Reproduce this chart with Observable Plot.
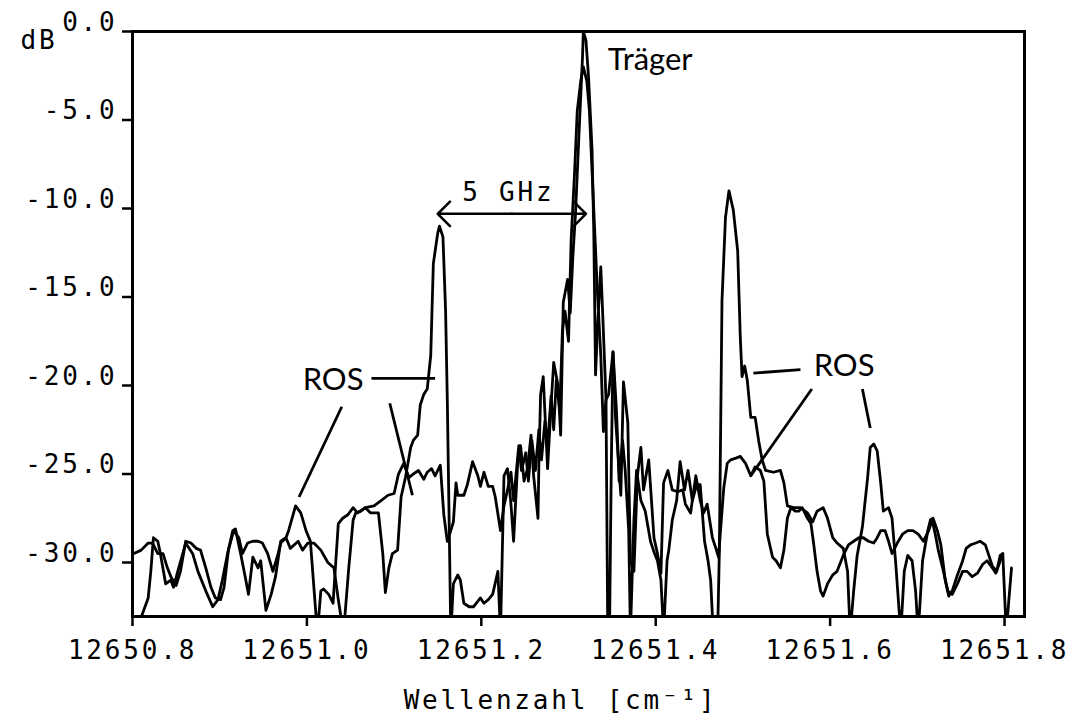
<!DOCTYPE html>
<html>
<head>
<meta charset="utf-8">
<script src="https://cdn.jsdelivr.net/npm/d3@7"></script>
<script src="https://cdn.jsdelivr.net/npm/@observablehq/plot@0.6"></script>
<style>
  html, body { margin: 0; padding: 0; background: #fff; }
  svg { display: block; }
</style>
</head>
<body>
<div id="chart"></div>
<script>
// Wavenumber axis ticks [cm^-1] and level ticks [dB]
const xTicks = [12650.8, 12651.0, 12651.2, 12651.4, 12651.6, 12651.8];
const yTicks = [0, -5, -10, -15, -20, -25, -30];

// Spectrum with sharp first-order sidebands (wavenumber, dB)
const spectrumSharp = [
  [12650.807,-33.5],[12650.818,-32.0],[12650.821,-30.5],[12650.824,-28.6],[12650.829,-28.8],
  [12650.832,-29.5],[12650.838,-31.2],[12650.844,-31.0],[12650.847,-31.4],[12650.853,-30.3],
  [12650.861,-28.9],[12650.869,-29.5],[12650.875,-30.5],[12650.884,-31.6],[12650.892,-32.5],
  [12650.898,-32.1],[12650.903,-31.0],[12650.909,-29.5],[12650.915,-28.2],[12650.918,-28.1],
  [12650.924,-29.5],[12650.930,-31.0],[12650.933,-31.8],[12650.938,-29.7],[12650.944,-30.3],
  [12650.947,-29.9],[12650.953,-32.7],[12650.959,-31.8],[12650.964,-30.8],[12650.970,-28.8],
  [12650.976,-28.6],[12650.979,-28.2],[12650.987,-26.8],[12650.993,-27.2],[12650.999,-28.2],
  [12651.004,-28.8],[12651.012,-34.0],[12651.016,-31.6],[12651.019,-31.5],[12651.025,-31.8],
  [12651.030,-32.3],[12651.036,-27.8],[12651.041,-27.5],[12651.047,-27.3],[12651.053,-26.9],
  [12651.058,-27.2],[12651.067,-26.9],[12651.073,-27.2],[12651.079,-27.2],[12651.082,-27.2],
  [12651.087,-29.5],[12651.090,-31.7],[12651.094,-30.3],[12651.098,-29.5],[12651.104,-29.3],
  [12651.108,-26.3],[12651.113,-25.2],[12651.119,-23.5],[12651.122,-23.1],[12651.127,-22.8],
  [12651.130,-21.1],[12651.134,-20.5],[12651.138,-20.2],[12651.142,-18.3],[12651.145,-13.1],
  [12651.150,-11.4],[12651.152,-11.0],[12651.156,-11.6],[12651.159,-15.7],[12651.161,-20.8],
  [12651.163,-27.3],[12651.165,-34.0],[12651.168,-31.2],[12651.173,-30.7],[12651.176,-31.0],
  [12651.180,-32.3],[12651.186,-32.5],[12651.191,-32.5],[12651.199,-32.0],[12651.203,-32.3],
  [12651.208,-32.1],[12651.213,-31.8],[12651.219,-30.5],[12651.222,-34.0],[12651.226,-25.1],
  [12651.230,-24.7],[12651.234,-26.7],[12651.237,-28.8],[12651.242,-24.1],[12651.245,-23.4],
  [12651.249,-25.4],[12651.253,-24.7],[12651.257,-22.8],[12651.260,-25.1],[12651.265,-27.5],
  [12651.266,-24.5],[12651.268,-20.5],[12651.271,-19.5],[12651.276,-24.7],[12651.280,-21.1],
  [12651.283,-18.7],[12651.288,-20.0],[12651.291,-22.8],[12651.294,-15.3],[12651.299,-14.0],
  [12651.302,-15.9],[12651.305,-12.7],[12651.308,-10.3],[12651.312,-5.8],[12651.316,-1.5],
  [12651.317,0.0],[12651.320,-0.5],[12651.323,-2.6],[12651.327,-6.7],[12651.329,-11.4],
  [12651.331,-19.4],[12651.333,-17.0],[12651.337,-13.3],[12651.339,-15.7],[12651.343,-20.8],
  [12651.345,-34.0],[12651.347,-34.0],[12651.349,-24.8],[12651.351,-18.1],[12651.355,-21.4],
  [12651.358,-25.4],[12651.362,-23.1],[12651.365,-24.8],[12651.369,-28.2],[12651.371,-34.0],
  [12651.375,-27.6],[12651.378,-24.8],[12651.383,-26.5],[12651.388,-27.1],[12651.394,-28.8],
  [12651.398,-29.4],[12651.402,-29.9],[12651.406,-31.0],[12651.409,-34.0],[12651.413,-29.9],
  [12651.415,-29.3],[12651.419,-27.6],[12651.424,-26.5],[12651.428,-24.3],[12651.433,-25.9],
  [12651.437,-24.8],[12651.442,-26.5],[12651.447,-25.6],[12651.451,-25.6],[12651.456,-28.8],
  [12651.460,-29.9],[12651.463,-31.0],[12651.466,-34.0],[12651.471,-34.0],[12651.473,-29.3],
  [12651.476,-15.2],[12651.480,-10.5],[12651.484,-9.0],[12651.489,-10.1],[12651.494,-12.4],
  [12651.497,-17.3],[12651.499,-19.5],[12651.502,-18.9],[12651.505,-19.7],[12651.509,-21.8],
  [12651.514,-21.8],[12651.518,-23.1],[12651.522,-24.2],[12651.526,-24.8],[12651.535,-24.9],
  [12651.543,-24.8],[12651.547,-25.5],[12651.551,-26.8],[12651.558,-26.9],[12651.566,-26.9],
  [12651.574,-27.2],[12651.580,-27.7],[12651.585,-27.1],[12651.592,-26.9],[12651.597,-27.5],
  [12651.603,-28.6],[12651.608,-28.9],[12651.615,-29.2],[12651.620,-30.5],[12651.623,-34.0],
  [12651.627,-31.6],[12651.631,-29.6],[12651.637,-28.0],[12651.643,-25.2],[12651.646,-23.5],
  [12651.650,-23.3],[12651.654,-23.7],[12651.658,-25.5],[12651.661,-27.1],[12651.667,-26.9],
  [12651.671,-27.5],[12651.675,-29.9],[12651.681,-34.0],[12651.685,-30.5],[12651.689,-29.6],
  [12651.694,-29.9],[12651.698,-31.6],[12651.701,-34.0],[12651.706,-29.9],[12651.712,-28.2],
  [12651.715,-27.6],[12651.718,-27.5],[12651.723,-28.2],[12651.727,-29.0],[12651.732,-31.0],
  [12651.736,-31.9],[12651.740,-31.6],[12651.746,-30.7],[12651.752,-29.9],[12651.756,-29.2],
  [12651.761,-29.0],[12651.767,-28.9],[12651.772,-28.8],[12651.778,-29.0],[12651.782,-29.6],
  [12651.786,-30.2],[12651.791,-30.5],[12651.795,-29.6],[12651.798,-29.5],[12651.802,-34.0],
  [12651.804,-32.7],[12651.808,-30.3]
];

// Spectrum with broad wings (wavenumber, dB)
const spectrumBroad = [
  [12650.801,-29.5],[12650.810,-29.3],[12650.818,-28.9],[12650.823,-28.9],[12650.829,-29.5],
  [12650.835,-29.5],[12650.840,-30.3],[12650.844,-30.8],[12650.850,-31.3],[12650.855,-30.5],
  [12650.861,-28.8],[12650.867,-28.9],[12650.873,-29.2],[12650.878,-29.3],[12650.884,-30.3],
  [12650.890,-31.4],[12650.895,-32.0],[12650.901,-32.1],[12650.905,-31.4],[12650.910,-29.3],
  [12650.916,-28.2],[12650.922,-28.6],[12650.926,-29.5],[12650.932,-28.9],[12650.938,-28.8],
  [12650.944,-28.8],[12650.949,-28.9],[12650.955,-29.5],[12650.961,-30.5],[12650.967,-29.5],
  [12650.970,-28.9],[12650.976,-28.6],[12650.981,-29.2],[12650.990,-28.8],[12650.995,-29.3],
  [12651.001,-28.9],[12651.008,-28.9],[12651.016,-29.3],[12651.024,-30.0],[12651.031,-30.3],
  [12651.036,-32.1],[12651.042,-34.0],[12651.048,-30.3],[12651.053,-27.6],[12651.056,-27.2],
  [12651.062,-27.1],[12651.067,-26.9],[12651.077,-26.8],[12651.085,-26.5],[12651.093,-26.2],
  [12651.100,-26.1],[12651.105,-25.0],[12651.111,-24.4],[12651.117,-25.2],[12651.122,-25.0],
  [12651.128,-24.8],[12651.134,-25.3],[12651.138,-24.9],[12651.143,-24.7],[12651.147,-25.1],
  [12651.153,-24.5],[12651.157,-27.3],[12651.161,-28.8],[12651.165,-28.2],[12651.168,-27.7],
  [12651.171,-25.5],[12651.173,-26.2],[12651.180,-26.2],[12651.184,-25.6],[12651.190,-24.3],
  [12651.196,-25.1],[12651.199,-25.7],[12651.203,-24.9],[12651.208,-25.7],[12651.213,-25.7],
  [12651.216,-26.3],[12651.222,-28.2],[12651.226,-26.8],[12651.230,-25.9],[12651.234,-24.9],
  [12651.237,-26.5],[12651.243,-23.4],[12651.246,-24.8],[12651.251,-23.8],[12651.254,-25.4],
  [12651.258,-23.1],[12651.262,-24.8],[12651.266,-22.5],[12651.269,-24.2],[12651.273,-22.0],
  [12651.276,-23.4],[12651.280,-20.6],[12651.283,-22.5],[12651.286,-19.7],[12651.290,-21.4],
  [12651.293,-16.9],[12651.296,-15.8],[12651.300,-17.5],[12651.303,-11.8],[12651.307,-7.9],
  [12651.310,-4.5],[12651.314,-2.8],[12651.317,-2.0],[12651.321,-2.8],[12651.324,-4.5],
  [12651.327,-7.9],[12651.330,-11.2],[12651.333,-14.6],[12651.337,-18.3],[12651.340,-22.6],
  [12651.343,-20.8],[12651.346,-20.5],[12651.351,-18.1],[12651.354,-21.9],[12651.360,-26.2],
  [12651.363,-19.8],[12651.368,-22.1],[12651.371,-29.9],[12651.375,-30.5],[12651.379,-25.1],
  [12651.383,-23.5],[12651.386,-25.9],[12651.392,-24.2],[12651.398,-28.6],[12651.402,-29.5],
  [12651.406,-30.6],[12651.409,-25.5],[12651.414,-24.8],[12651.419,-25.9],[12651.425,-26.0],
  [12651.431,-25.9],[12651.434,-26.7],[12651.440,-27.2],[12651.446,-25.1],[12651.451,-26.5],
  [12651.455,-27.2],[12651.459,-26.7],[12651.465,-28.6],[12651.469,-29.2],[12651.472,-29.7],
  [12651.478,-25.8],[12651.482,-24.4],[12651.486,-24.2],[12651.492,-24.1],[12651.497,-24.0],
  [12651.503,-24.4],[12651.509,-25.1],[12651.514,-24.6],[12651.520,-24.8],[12651.524,-25.4],
  [12651.528,-28.4],[12651.534,-29.7],[12651.538,-29.9],[12651.543,-30.3],[12651.547,-29.3],
  [12651.551,-27.5],[12651.555,-26.9],[12651.560,-27.1],[12651.564,-27.1],[12651.568,-26.9],
  [12651.574,-27.5],[12651.578,-27.8],[12651.581,-28.9],[12651.585,-30.5],[12651.589,-31.6],
  [12651.592,-31.9],[12651.597,-31.2],[12651.603,-30.7],[12651.608,-30.5],[12651.615,-29.6],
  [12651.621,-29.0],[12651.627,-28.8],[12651.633,-28.6],[12651.638,-28.6],[12651.644,-28.8],
  [12651.650,-28.9],[12651.654,-28.6],[12651.658,-28.2],[12651.663,-28.2],[12651.667,-28.8],
  [12651.671,-29.5],[12651.677,-28.9],[12651.683,-28.4],[12651.689,-28.2],[12651.695,-28.2],
  [12651.701,-28.4],[12651.707,-28.8],[12651.713,-28.2],[12651.717,-27.6],[12651.721,-28.5],
  [12651.724,-29.3],[12651.729,-30.3],[12651.735,-31.6],[12651.740,-31.8],[12651.746,-31.2],
  [12651.752,-30.5],[12651.757,-30.5],[12651.763,-30.8],[12651.769,-30.6],[12651.775,-30.1],
  [12651.780,-29.9],[12651.786,-30.3],[12651.790,-30.6],[12651.793,-30.2],[12651.798,-29.5]
];

// Pointer lines of the annotations: [x1, y1, x2, y2]
const pointerLines = [
  [12650.991,-26.3,12651.040,-21.2],
  [12651.095,-21.0,12651.121,-26.2],
  [12651.074,-19.6,12651.147,-19.6],
  [12651.512,-19.3,12651.566,-19.1],
  [12651.509,-25.1,12651.579,-20.2],
  [12651.637,-20.2,12651.646,-22.4]
];
// Annotation labels: [x, y, text]
const rosLabels = [[12651.030,-19.7,"ROS"],[12651.616,-18.9,"ROS"]];
const carrierLabel = [[12651.345,-1.6,"Träger"]];
// 5 GHz spacing arrow: [x start, x end, y] and label [x, y, text]
const spacingArrow = [12651.150, 12651.320, -10.3];
const spacingLabel = [[12651.231,-9.1,"5 GHz"]];

const toRows = arr => arr.map(([x, y]) => ({x, y}));
const sharp = toRows(spectrumSharp);
const broad = toRows(spectrumBroad);
const links = pointerLines.map(([x1, y1, x2, y2]) => ({x1, y1, x2, y2}));
const mid = (spacingArrow[0] + spacingArrow[1]) / 2;
const arrows = [
  {x1: mid, y1: spacingArrow[2], x2: spacingArrow[0], y2: spacingArrow[2]},
  {x1: mid, y1: spacingArrow[2], x2: spacingArrow[1], y2: spacingArrow[2]}
];
const fmt = d => d.toFixed(1);

const chart = Plot.plot({
  width: 1070,
  height: 722,
  marginLeft: 132,
  marginRight: 46,
  marginTop: 31,
  marginBottom: 106,
  x: {domain: [12650.8, 12651.8229]},
  y: {domain: [-33.05, 0]},
  style: {
    fontFamily: "'DejaVu Sans Mono', monospace",
    fontSize: "26px",
    letterSpacing: "2.8px",
    color: "black",
    background: "white"
  },
  marks: [
    Plot.line(broad, {x: "x", y: "y", stroke: "black", strokeWidth: 2.8, clip: true, strokeLinejoin: "round"}),
    Plot.line(sharp, {x: "x", y: "y", stroke: "black", strokeWidth: 2.8, clip: true, strokeLinejoin: "round"}),
    Plot.frame({stroke: "black", strokeWidth: 3}),
    Plot.axisX({ticks: xTicks, tickFormat: fmt, tickSize: 10, tickPadding: 14, strokeWidth: 2.5, label: null}),
    // y ticks (marks only)
    Plot.axisY({ticks: yTicks, tickFormat: () => "", tickSize: 10, strokeWidth: 2.5, label: null}),
    // y tick labels, sitting on the tick
    Plot.axisY({ticks: yTicks, tickFormat: fmt, tickSize: 0, tickPadding: 15, dy: -9, label: null}),
    Plot.link(links, {x1: "x1", y1: "y1", x2: "x2", y2: "y2", stroke: "black", strokeWidth: 2.8}),
    Plot.arrow(arrows, {x1: "x1", y1: "y1", x2: "x2", y2: "y2", stroke: "black", strokeWidth: 2.6, headAngle: 90, headLength: 10}),
    Plot.text(rosLabels, {x: d => d[0], y: d => d[1], text: d => d[2], fontFamily: "Lato", fontSize: 31, fill: "black"}),
    Plot.text(carrierLabel, {x: d => d[0], y: d => d[1], text: d => d[2], textAnchor: "start", fontFamily: "Lato", fontSize: 31, fill: "black"}),
    Plot.text(spacingLabel, {x: d => d[0], y: d => d[1], text: d => d[2], fill: "black"}),
    Plot.text(["dB"], {frameAnchor: "top-left", dx: -112, dy: 9, lineAnchor: "middle", textAnchor: "start", fill: "black"}),
    Plot.text(["Wellenzahl [cm⁻¹]"], {frameAnchor: "bottom", dx: -18, dy: 84, lineAnchor: "middle", fill: "black"})
  ]
});

d3.select(chart).selectAll('g[font-family="Lato"]').attr("letter-spacing", "0px");
document.getElementById("chart").appendChild(chart);
</script>
</body>
</html>
